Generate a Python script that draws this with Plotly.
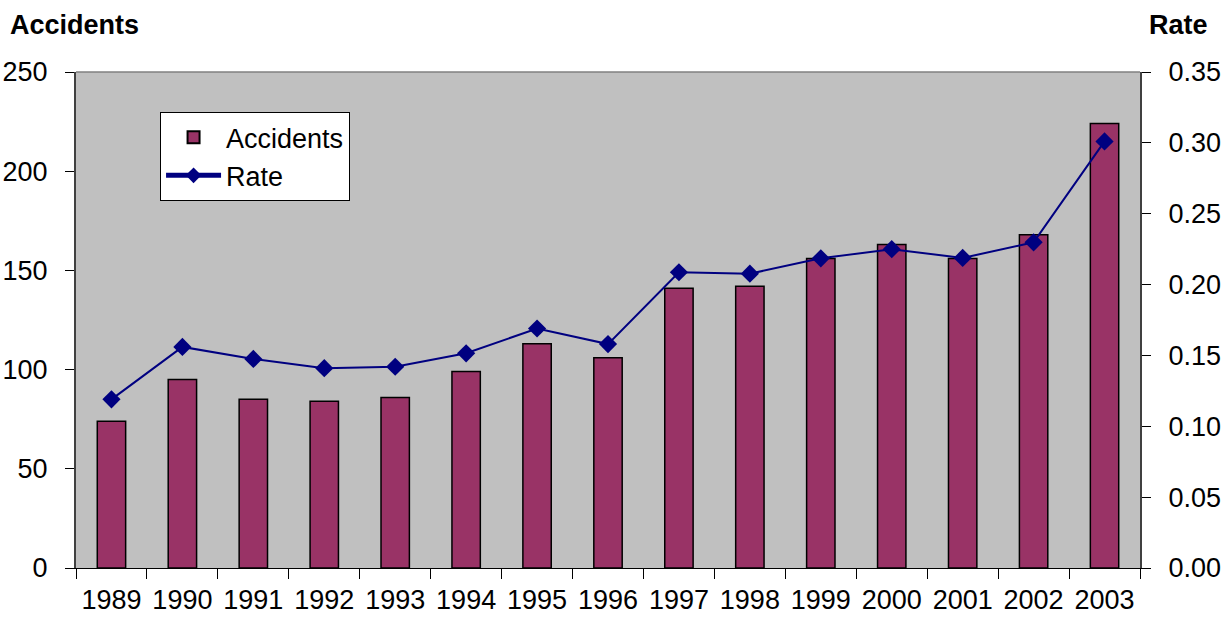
import plotly.graph_objects as go

years = ["1989", "1990", "1991", "1992", "1993", "1994", "1995", "1996",
         "1997", "1998", "1999", "2000", "2001", "2002", "2003"]
accidents = [74, 95, 85, 84, 86, 99, 113, 106, 141, 142, 156, 163, 156, 168, 224]
rate = [0.119, 0.156, 0.1475, 0.141, 0.142, 0.1515, 0.169, 0.158,
        0.2087, 0.2077, 0.2185, 0.225, 0.2188, 0.2298, 0.301]

acc_ticks = [0, 50, 100, 150, 200, 250]
rate_ticks = [0.0, 0.05, 0.10, 0.15, 0.20, 0.25, 0.30, 0.35]

FONT = "Liberation Sans, Arial, sans-serif"

fig = go.Figure()
fig.add_trace(go.Bar(
    x=years, y=accidents, name="Accidents",
    marker=dict(color="#993366", line=dict(color="black", width=1.5)),
))
fig.add_trace(go.Scatter(
    x=years, y=rate, name="Rate", yaxis="y2", mode="lines+markers",
    line=dict(color="#000080", width=2),
    marker=dict(symbol="diamond", size=14, color="#000080"),
))

fig.update_layout(
    width=1226, height=621,
    margin=dict(l=76, r=86, t=72, b=53),
    paper_bgcolor="white",
    plot_bgcolor="#C0C0C0",
    font=dict(family=FONT, size=26, color="black"),
    bargap=0.6,
    showlegend=True,
    legend=dict(
        x=0.079, y=0.919, xanchor="left", yanchor="top",
        bgcolor="white", bordercolor="black", borderwidth=1,
        font=dict(size=27), tracegroupgap=4, itemsizing="constant",
        itemwidth=55,
    ),
    xaxis=dict(
        type="category", range=[-0.5, len(years) - 0.5],
        tickson="boundaries", ticks="outside", ticklen=10,
        tickcolor="black", showline=True, linecolor="black", linewidth=1,
        showgrid=False, ticklabelstandoff=8, tickfont=dict(size=27),
        tickangle=0, automargin=False,
    ),
    yaxis=dict(
        range=[0, 250], tickvals=acc_ticks, ticks="outside", ticklen=9,
        tickcolor="black", showline=True, linecolor="#404040", linewidth=2,
        showgrid=False, zeroline=False, ticklabelstandoff=12, automargin=False,
        tickfont=dict(size=27),
    ),
    yaxis2=dict(
        range=[0, 0.35], tickvals=rate_ticks, tickformat=".2f",
        overlaying="y", side="right", ticks="outside", ticklen=9,
        tickcolor="black", showline=True, linecolor="#404040", linewidth=2,
        showgrid=False, zeroline=False, ticklabelstandoff=12, automargin=False,
        tickfont=dict(size=27),
    ),
    shapes=[dict(type="line", xref="paper", yref="paper", x0=0, x1=1, y0=1, y1=1,
                 line=dict(color="#808080", width=1.5))],
    annotations=[
        dict(text="<b>Accidents</b>", xref="paper", yref="paper",
             x=(8 - 76) / 1064, y=(568 - 25) / 496, xanchor="left", yanchor="middle",
             showarrow=False, font=dict(size=27)),
        dict(text="<b>Rate</b>", xref="paper", yref="paper",
             x=(1210 - 76) / 1064, y=(568 - 25) / 496, xanchor="right", yanchor="middle",
             showarrow=False, font=dict(size=27)),
    ],
)

fig.write_html("out.html")
